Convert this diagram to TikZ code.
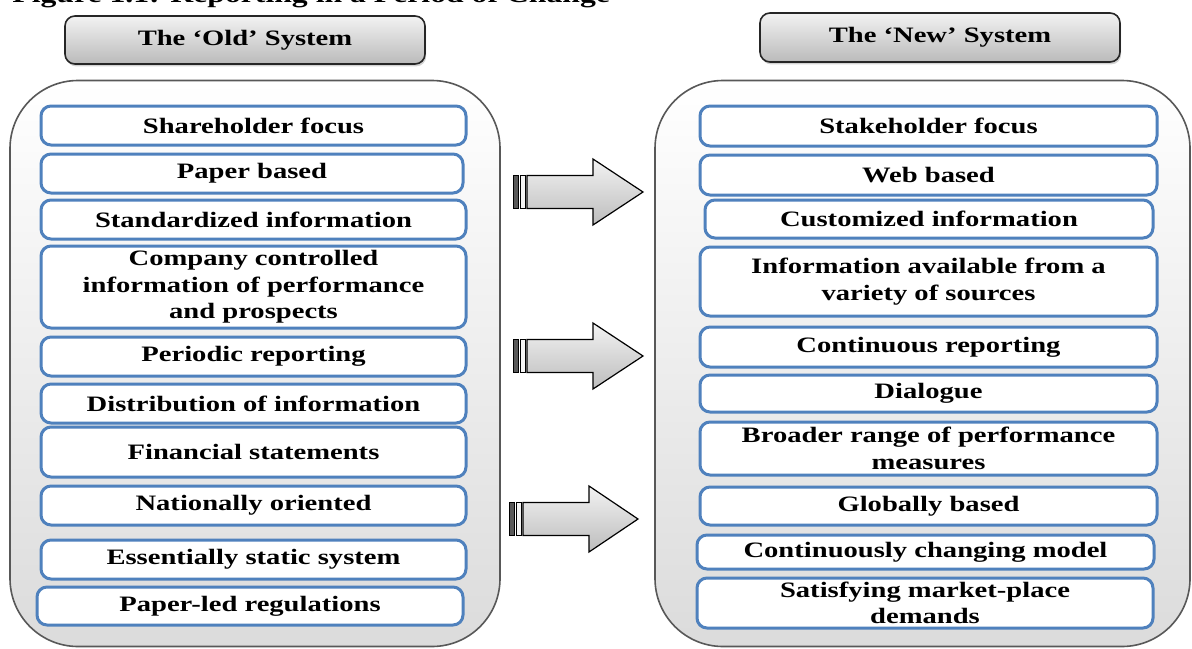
\documentclass[tikz,border=0pt]{standalone}
\usepackage{fontspec}
\setmainfont{Liberation Serif}
\newfontfamily\wideSerif[FakeStretch=1.3]{Liberation Serif}
\usepackage{tikz}
\usetikzlibrary{shadows}
\definecolor{itemBlue}{RGB}{79,129,189}
\definecolor{frameGray}{RGB}{88,88,88}
\newcommand{\pxUnit}{0.5pt}
\newcommand{\itemFont}{\wideSerif\fontsize{11}{13.3}\selectfont\bfseries}
\newcommand{\titleFont}{\wideSerif\fontsize{12.2}{14}\selectfont\bfseries}
\newcommand{\titleText}{Figure 1.1: Reporting in a Period of Change}
\newcommand{\oldItems}{1/106/145/41/466/{Shareholder focus}, 2/154/193/41/463/{Paper based}, 3/200/239/41/466/{Standardized information}, 4/246/328/41/466/{Company controlled\\information of performance\\and prospects}, 5/337/376/41/466/{Periodic reporting}, 6/384/423/41/466/{Distribution of information}, 7/427/477/41/466/{Financial statements}, 8/486/525/41/466/{Nationally oriented}, 9/540/579/41/466/{Essentially static system}, 10/587/625/37/463/{Paper-led regulations}} % top/bottom/left/right in px
\newcommand{\newItems}{1/106/146/700/1157/{Stakeholder focus}, 2/155/195/700/1157/{Web based}, 3/200/238/705/1153/{Customized information}, 4/247/316/700/1157/{Information available from a\\variety of sources}, 5/327/367/700/1157/{Continuous reporting}, 6/375/412/700/1157/{Dialogue}, 7/422/475/700/1157/{Broader range of performance\\measures}, 8/487/525/700/1157/{Globally based}, 9/535/569/697/1154/{Continuously changing model}, 10/578/628/697/1153/{Satisfying market-place\\demands}}
\newcommand{\arrowList}{1/192/513/593/643, 2/356/513/593/643, 3/519/509/589/638} % center y/tail/head base/tip
\newcommand{\shaftHalf}{16.5}
\newcommand{\headHalf}{33}
\tikzset{
	itembox/.style={draw=itemBlue, line width=1.5pt, rounded corners=5pt, fill=white, align=center, inner sep=0pt, font=\itemFont},
	headbox/.style={draw=black!85, line width=0.8pt, rounded corners=5pt, top color=black!5, bottom color=black!27, inner sep=0pt, font=\itemFont, drop shadow={shadow xshift=0.6pt, shadow yshift=-1.2pt, opacity=0.35}},
	groupbox/.style={draw=frameGray, line width=0.8pt, rounded corners=34pt, top color=white, bottom color=black!14, inner sep=0pt},
	blockarrow/.style={draw=black, line width=0.6pt, top color=black!5, bottom color=black!26},
	stripebar/.style={draw=black, line width=0.5pt}
}
\begin{document}
\begin{tikzpicture}[x=\pxUnit, y=-\pxUnit]
	\useasboundingbox (0,0) rectangle (1192,648);
	\clip (0,0) rectangle (1192,648);

	\node[anchor=base west, inner sep=0pt, font=\titleFont] (figTitle) at (12,3) {\titleText};

	\node[groupbox, minimum width=245pt, minimum height=283pt] (oldGroup) at (255,363.5) {};
	\node[groupbox, minimum width=267.5pt, minimum height=283pt] (newGroup) at (922.5,363.5) {};

	\node[headbox, minimum width=180pt, minimum height=24pt] (oldHead) at (245,40) {The ‘Old’ System};
	\node[headbox, minimum width=180pt, minimum height=24.5pt] (newHead) at (940,37.5) {The ‘New’ System};

	\foreach \n/\t/\b/\l/\r/\txt in \oldItems
	{
		\pgfmathsetmacro{\w}{(\r-\l)*0.5}
		\pgfmathsetmacro{\h}{(\b-\t)*0.5}
		\node[itembox, minimum width=\w pt, minimum height=\h pt] (old\n) at ({(\l+\r)/2},{(\t+\b)/2}) {\txt};
	}
	\foreach \n/\t/\b/\l/\r/\txt in \newItems
	{
		\pgfmathsetmacro{\w}{(\r-\l)*0.5}
		\pgfmathsetmacro{\h}{(\b-\t)*0.5}
		\node[itembox, minimum width=\w pt, minimum height=\h pt] (new\n) at ({(\l+\r)/2},{(\t+\b)/2}) {\txt};
	}

	\foreach \n/\cy/\tail/\base/\tip in \arrowList
	{
		\draw[blockarrow] (\tail+14,\cy-\shaftHalf) -- (\base,\cy-\shaftHalf) -- (\base,\cy-\headHalf) -- (\tip,\cy) -- (\base,\cy+\headHalf) -- (\base,\cy+\shaftHalf) -- (\tail+14,\cy+\shaftHalf) -- cycle;
		\draw[stripebar, fill=black!65] (\tail,\cy-\shaftHalf) rectangle ++(5.5,2*\shaftHalf);
		\draw[stripebar, fill=black!4] (\tail+7,\cy-\shaftHalf) rectangle ++(5,2*\shaftHalf);
	}
\end{tikzpicture}
\end{document}
